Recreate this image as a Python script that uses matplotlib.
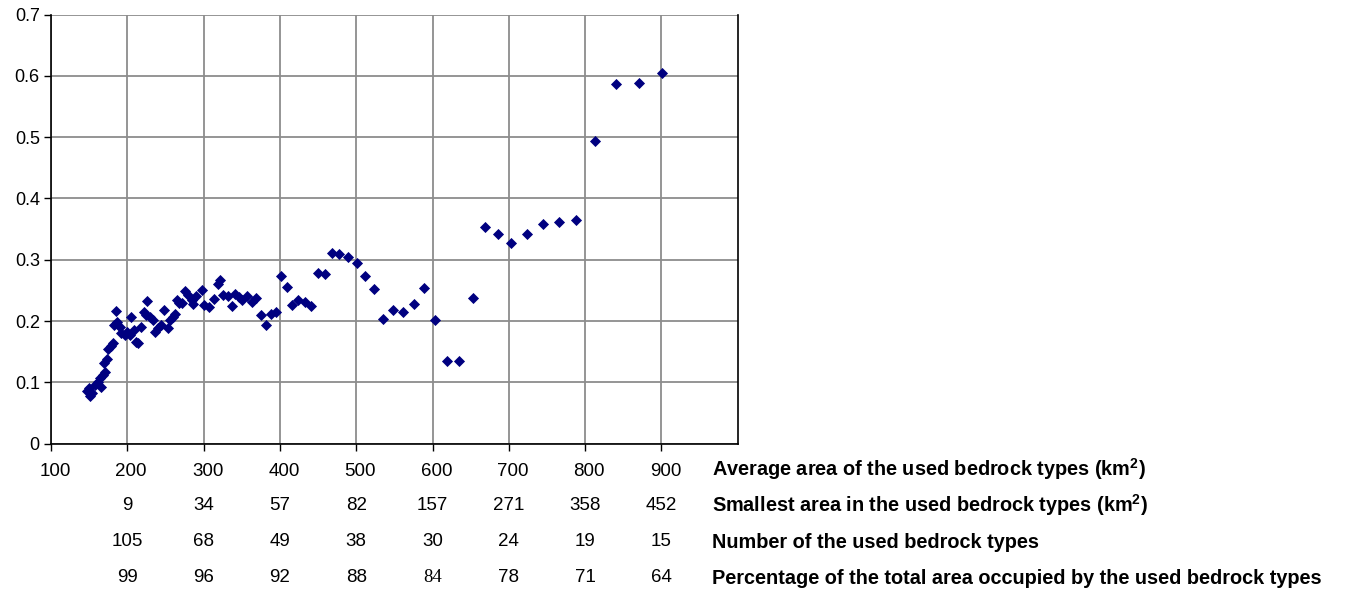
import matplotlib
matplotlib.use("Agg")
import matplotlib.pyplot as plt
from matplotlib.transforms import blended_transform_factory, ScaledTranslation

plt.rcParams['font.family'] = ['Liberation Sans', 'DejaVu Sans']
plt.rcParams['mathtext.fontset'] = 'custom'
plt.rcParams['mathtext.rm'] = 'Liberation Sans'
plt.rcParams['mathtext.bf'] = 'Liberation Sans:bold'

# Average area of used bedrock types (km2) vs value
avg_area = [146.7, 151, 154, 150, 157.5, 162, 166, 164, 168, 170.5, 169.6, 173, 175,
            178.4, 181.4, 185.8, 182.3, 186.6, 190, 192.3, 196.7, 199.7, 203, 205.4,
            208.4, 212, 214, 218.5, 221.5, 225.8, 225, 230.2, 233.6, 237, 240, 244.5,
            248.8, 253.2, 255.4, 259.7, 262, 265.4, 268.4, 272, 276.3, 279.3, 285,
            286.7, 290.2, 297.5, 301, 307.6, 314, 318.4, 321.5, 325.8, 331.4, 336.7,
            341, 345.8, 351, 357.5, 364, 368.5, 375, 381.5, 388, 394.6, 401, 409.7,
            416.3, 424, 432.8, 441, 449.8, 458.5, 468.5, 478, 489.3, 501, 512, 523.7,
            534.6, 547.6, 560.7, 576, 589, 603.3, 619.4, 635, 653.3, 669.3, 686,
            703.3, 723.8, 744.6, 765.5, 788, 812.8, 840.2, 869.9, 901]
values = [0.085, 0.078, 0.083, 0.090, 0.096, 0.101, 0.092, 0.107, 0.112, 0.116, 0.131,
          0.138, 0.155, 0.160, 0.164, 0.216, 0.193, 0.199, 0.191, 0.180, 0.177, 0.182,
          0.177, 0.207, 0.185, 0.166, 0.164, 0.191, 0.215, 0.233, 0.210, 0.207, 0.202,
          0.182, 0.188, 0.193, 0.218, 0.188, 0.202, 0.207, 0.212, 0.235, 0.229, 0.230,
          0.249, 0.242, 0.234, 0.228, 0.240, 0.251, 0.226, 0.223, 0.236, 0.260, 0.267,
          0.242, 0.240, 0.225, 0.244, 0.239, 0.235, 0.240, 0.231, 0.238, 0.210, 0.194,
          0.211, 0.215, 0.274, 0.256, 0.226, 0.234, 0.231, 0.225, 0.279, 0.276, 0.311,
          0.309, 0.305, 0.295, 0.274, 0.252, 0.203, 0.218, 0.215, 0.228, 0.254, 0.201,
          0.134, 0.134, 0.238, 0.354, 0.342, 0.328, 0.342, 0.358, 0.362, 0.364, 0.494,
          0.586, 0.588, 0.604]

x_ticks = [100, 200, 300, 400, 500, 600, 700, 800, 900]
y_ticks = [0, 0.1, 0.2, 0.3, 0.4, 0.5, 0.6, 0.7]
table_cols = [200, 300, 400, 500, 600, 700, 800, 900]
smallest_area = ['9', '34', '57', '82', '157', '271', '358', '452']
num_types = ['105', '68', '49', '38', '30', '24', '19', '15']
pct_area = ['99', '96', '92', '88', '84', '78', '71', '64']
row_titles = ['Average area of the used bedrock types (km$^{\\mathbf{2}}$)',
              'Smallest area in the used bedrock types (km$^{\\mathbf{2}}$)',
              'Number of the used bedrock types',
              'Percentage of the total area occupied by the used bedrock types']

W, H = 1346, 589
fig = plt.figure(figsize=(W / 100, H / 100), dpi=100)
ax = fig.add_axes([50.9 / W, 1 - 443.6 / H, (737.8 - 50.9) / W, (443.6 - 14.5) / H])

ax.scatter(avg_area, values, marker='D', s=32, color='#000080', zorder=3, linewidths=0)

ax.set_xlim(100, 1000)
ax.set_ylim(0, 0.7)
ax.set_xticks(x_ticks)
ax.set_yticks(y_ticks)
ax.set_yticklabels(['0', '0.1', '0.2', '0.3', '0.4', '0.5', '0.6', '0.7'])
ax.set_xticklabels([str(v) for v in x_ticks])
ax.grid(True, color='#8c8c8c', linewidth=1.3)
ax.set_axisbelow(True)
for s in ['left', 'right', 'bottom']:
    ax.spines[s].set_color('black')
    ax.spines[s].set_linewidth(1.2)
ax.spines['top'].set_visible(False)
ax.tick_params(axis='both', direction='out', length=5, width=1, colors='black',
               labelsize=13)
ax.tick_params(axis='x', pad=9, labelsize=13.5)
ax.tick_params(axis='y', pad=3)
shift = ScaledTranslation(4 / 100, 0, fig.dpi_scale_trans)
for lab in ax.get_xticklabels():
    lab.set_transform(lab.get_transform() + shift)

tr = blended_transform_factory(ax.transData, fig.transFigure)
row_y = [505, 542, 578]
for yy, row in zip(row_y, [smallest_area, num_types, pct_area]):
    for xv, lab in zip(table_cols, row):
        fam = ['Liberation Serif'] if (row is pct_area and lab == '84') else ['Liberation Sans']
        ax.text(xv, 1 - yy / H, lab, transform=tr, ha='center', va='center',
                fontsize=13.5, family=fam)

for yy, t in zip([469, 505, 542, 578], row_titles):
    fig.text(712 / W, 1 - yy / H, t, ha='left', va='center', fontsize=14.3,
             fontweight='bold')

fig.savefig('out.png', dpi=100)
